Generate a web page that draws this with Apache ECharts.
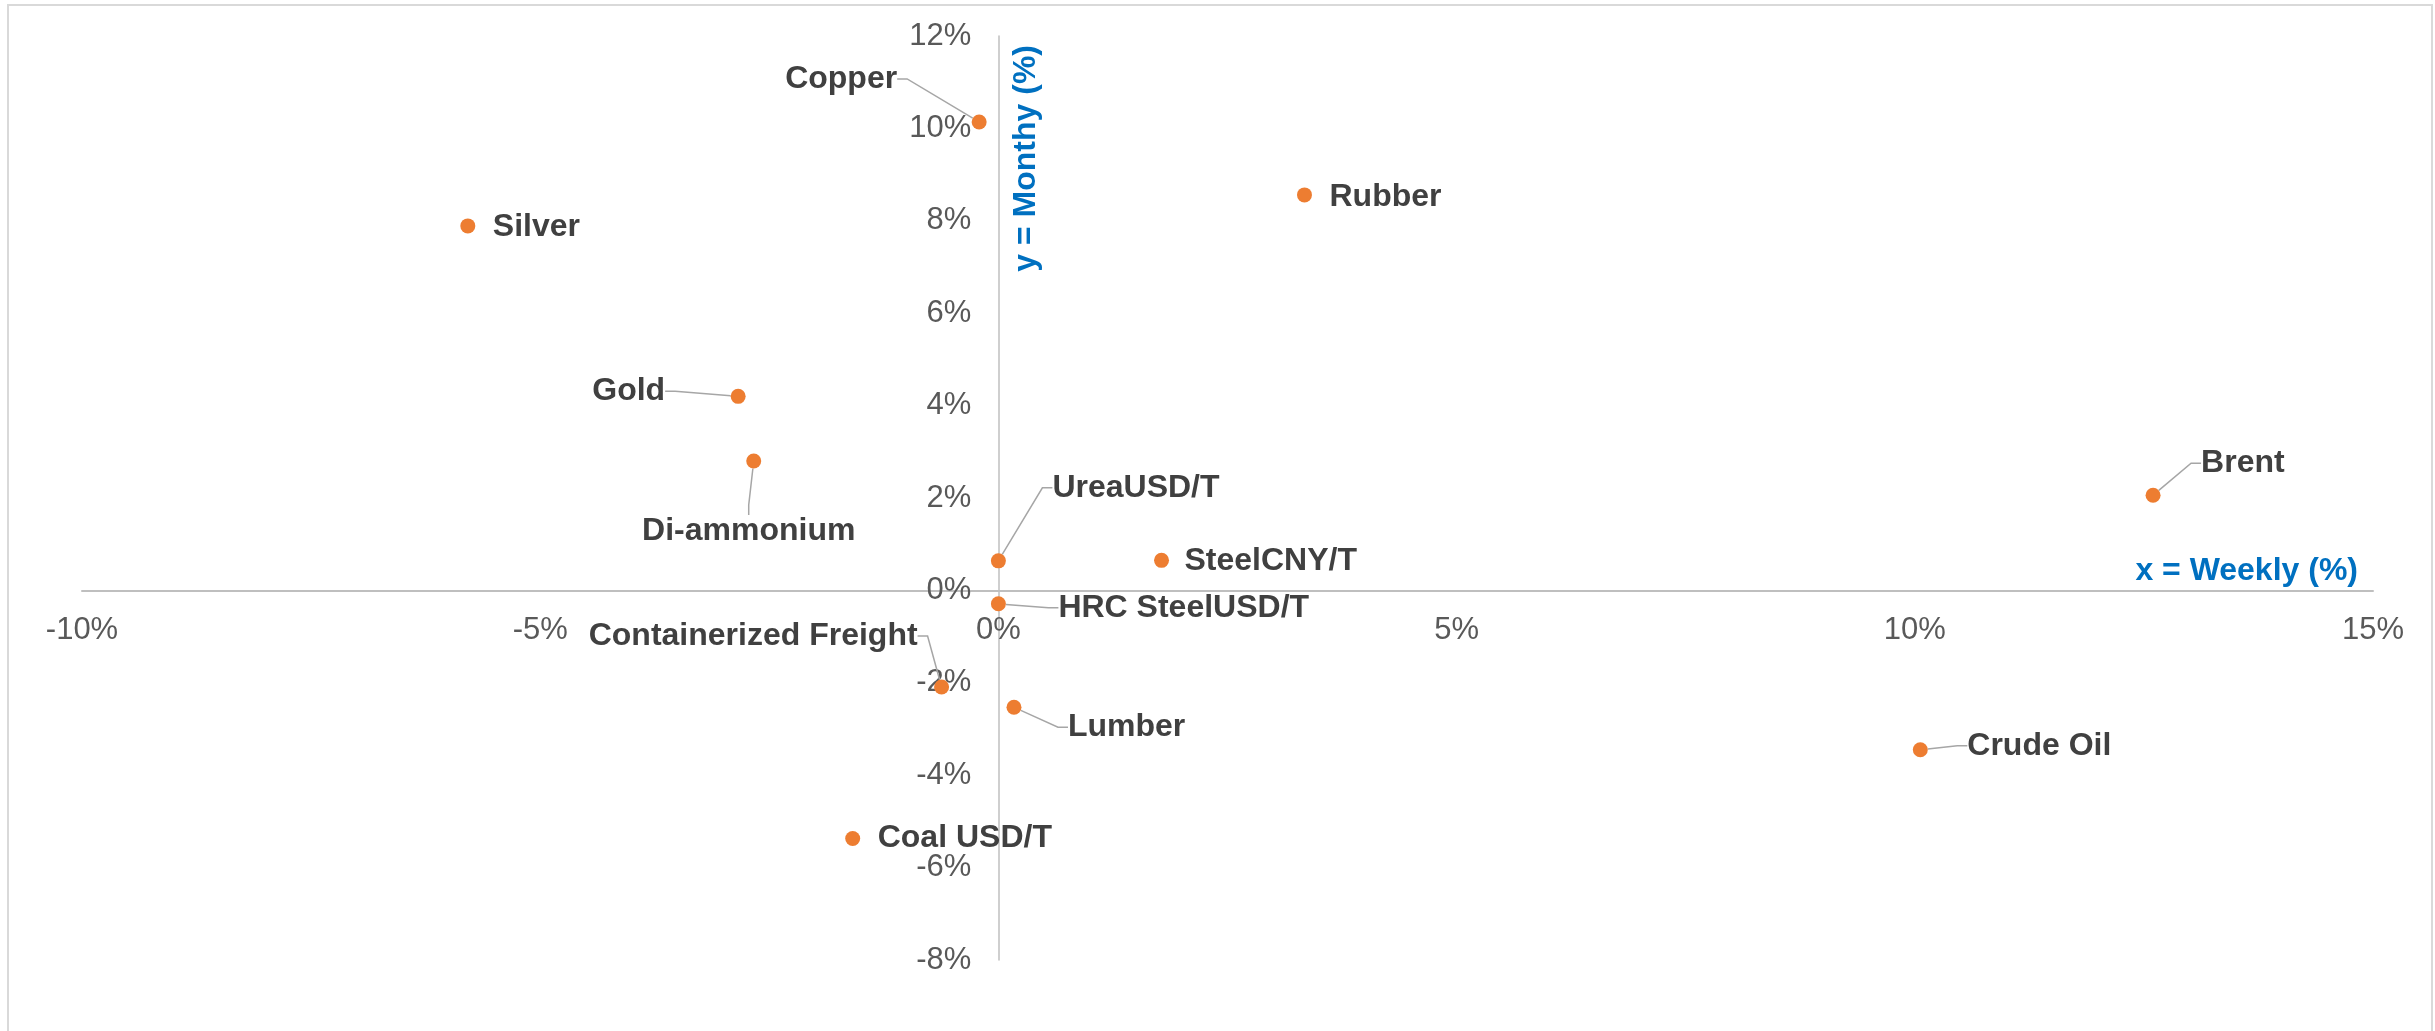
<!DOCTYPE html>
<html>
<head>
<meta charset="utf-8">
<script src="https://cdn.jsdelivr.net/npm/echarts@6/dist/echarts.min.js"></script>
<style>
html, body { margin: 0; padding: 0; background: #ffffff; }
#chart { width: 2435px; height: 1031px; }
</style>
</head>
<body>
<div id="chart"></div>
<script>
// ---- data ----
const commodities = ['Copper', 'Silver', 'Gold', 'Di-ammonium', 'Rubber', 'Brent', 'UreaUSD/T',
  'SteelCNY/T', 'HRC SteelUSD/T', 'Containerized Freight', 'Lumber', 'Coal USD/T', 'Crude Oil'];
const weeklyPct  = [-0.21, -5.79, -2.84, -2.67, 3.34, 12.60, 0.00, 1.78, 0.00, -0.62, 0.17, -1.59, 10.06];
const monthlyPct = [10.14, 7.89, 4.20, 2.80, 8.56, 2.06, 0.64, 0.65, -0.29, -2.09, -2.53, -5.37, -3.45];
const xTicks = [-10, -5, 0, 5, 10, 15];
const yTicks = [-8, -6, -4, -2, 0, 2, 4, 6, 8, 10, 12];
const xTitle = 'x = Weekly (%)';
const yTitle = 'y = Monthy (%)';

// ---- label placement (presentation only: offset of label from its point) ----
const labelPlacement = {
  'Copper':                { dx: -82, dy: -43, align: 'right',  line: true },
  'Silver':                { dx: 25,  dy: 1,   align: 'left',   line: false },
  'Gold':                  { dx: -73, dy: -5,  align: 'right',  line: true },
  'Di-ammonium':           { dx: -5,  dy: 70,  align: 'center', line: true },
  'Rubber':                { dx: 25,  dy: 2,   align: 'left',   line: false },
  'Brent':                 { dx: 48,  dy: -32, align: 'left',   line: true },
  'UreaUSD/T':             { dx: 54,  dy: -73, align: 'left',   line: true },
  'SteelCNY/T':            { dx: 23,  dy: 1,   align: 'left',   line: false },
  'HRC SteelUSD/T':        { dx: 60,  dy: 4,   align: 'left',   line: true },
  'Containerized Freight': { dx: -24, dy: -51, align: 'right',  line: true },
  'Lumber':                { dx: 54,  dy: 20,  align: 'left',   line: true },
  'Coal USD/T':            { dx: 25,  dy: 0,   align: 'left',   line: false },
  'Crude Oil':             { dx: 47,  dy: -4,  align: 'left',   line: true }
};

const FONT = 'Liberation Sans, Arial, sans-serif';
const pct = v => Math.round(v) + '%';

const chart = echarts.init(document.getElementById('chart'), null, { renderer: 'canvas' });

const seriesData = commodities.map((n, i) => ({
  name: n,
  value: [weeklyPct[i], monthlyPct[i]],
  labelLine: { show: labelPlacement[n].line }
}));

const xMin = xTicks[0], xMax = xTicks[xTicks.length - 1];
const yMin = yTicks[0], yMax = yTicks[yTicks.length - 1];

chart.setOption({
  backgroundColor: '#ffffff',
  animation: false,
  textStyle: { fontFamily: FONT },
  graphic: [{
    type: 'rect', silent: true, z: -10,
    shape: { x: 8, y: 5, width: 2424, height: 1040 },
    style: { fill: 'none', stroke: '#D9D9D9', lineWidth: 2 }
  }],
  grid: { left: 82, right: 62, top: 36, bottom: 71, containLabel: false, outerBoundsMode: 'none' },
  xAxis: {
    type: 'value',
    min: xMin, max: xMax, interval: xTicks[1] - xTicks[0],
    position: 'bottom',
    offset: 0,
    axisLine: { show: true, onZero: false, lineStyle: { color: '#BFBFBF', width: 2 } },
    axisTick: { show: false },
    splitLine: { show: false },
    axisLabel: { formatter: pct, color: '#595959', fontSize: 31, fontFamily: FONT, margin: 25 },
    name: xTitle,
    nameLocation: 'end',
    nameGap: -15,
    nameMoveOverlap: false,
    nameTextStyle: { color: '#0070C0', fontWeight: 'bold', fontSize: 32, fontFamily: FONT,
      align: 'right', verticalAlign: 'bottom', padding: [0, 0, 3, 0] }
  },
  yAxis: {
    type: 'value',
    min: yMin, max: yMax, interval: yTicks[1] - yTicks[0],
    position: 'left',
    offset: 0,
    axisLine: { show: true, onZero: false, lineStyle: { color: '#BFBFBF', width: 1.5 } },
    axisTick: { show: false },
    splitLine: { show: false },
    axisLabel: { formatter: pct, color: '#595959', fontSize: 31, fontFamily: FONT, margin: 27 },
    name: yTitle,
    nameLocation: 'end',
    nameGap: -9,
    nameRotate: 90,
    nameMoveOverlap: false,
    nameTextStyle: { color: '#0070C0', fontWeight: 'bold', fontSize: 32, fontFamily: FONT,
      align: 'right', verticalAlign: 'top', padding: [12, 0, 0, 0] }
  },
  series: [{
    type: 'scatter',
    symbol: 'circle',
    symbolSize: 15,
    itemStyle: { color: '#ED7D31', opacity: 1 },
    data: seriesData,
    label: {
      show: true,
      formatter: '{b}',
      color: '#404040',
      opacity: 1,
      fontWeight: 'bold',
      fontSize: 32,
      fontFamily: FONT
    },
    labelLine: {
      show: false,
      length2: 10,
      lineStyle: { color: '#A6A6A6', width: 1.5, opacity: 1 }
    },
    labelLayout: function (p) {
      const cfg = labelPlacement[commodities[p.dataIndex]];
      const cx = p.rect.x + p.rect.width / 2;
      const cy = p.rect.y + p.rect.height / 2;
      return { x: cx + cfg.dx, y: cy + cfg.dy, align: cfg.align, verticalAlign: 'middle' };
    },
    z: 5
  }]
});

// Move both axes (line, labels, names) so they cross at the origin, as in the reference.
const origin = chart.convertToPixel({ gridIndex: 0 }, [0, 0]);
const corner = chart.convertToPixel({ gridIndex: 0 }, [xMin, yMin]);
chart.setOption({
  xAxis: { offset: origin[1] - corner[1] },
  yAxis: { offset: corner[0] - origin[0] }
});
</script>
</body>
</html>
